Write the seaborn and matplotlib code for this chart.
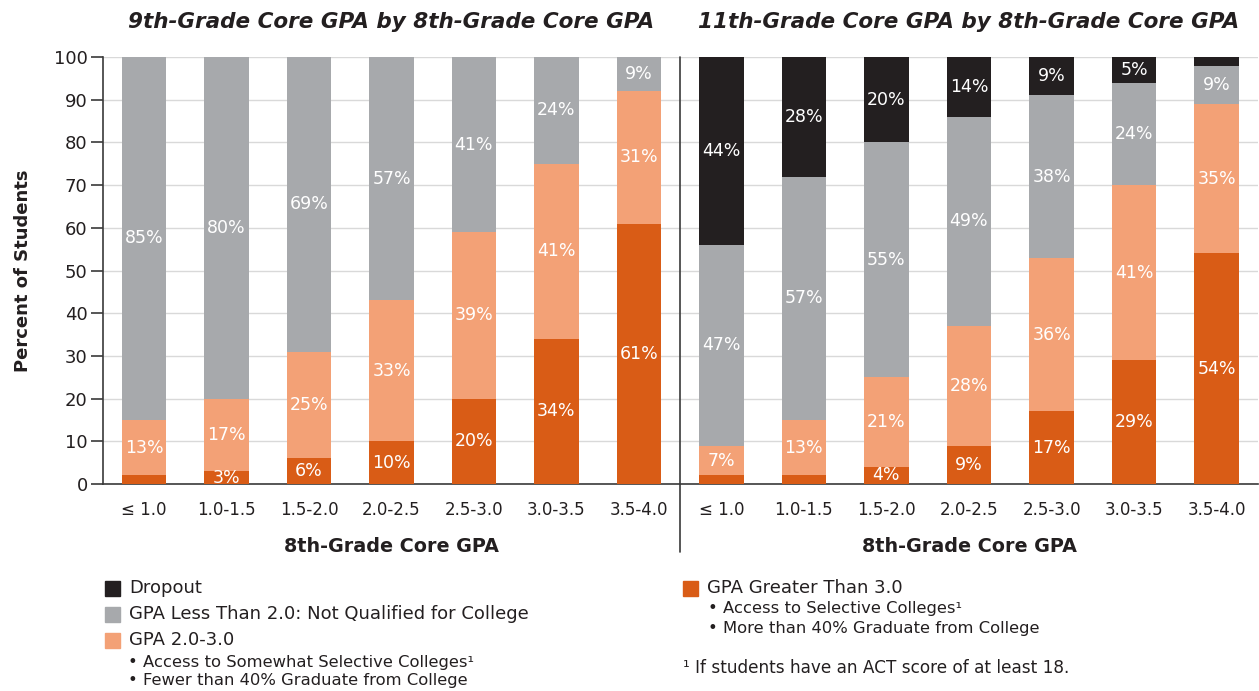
import matplotlib
matplotlib.use("Agg")
import matplotlib.pyplot as plt
from matplotlib.patches import Rectangle
from matplotlib.lines import Line2D
import numpy as np
import pandas as pd
import seaborn as sns

# categories (8th grade core GPA bins)
gpa_bins = ["\u2264 1.0", "1.0-1.5", "1.5-2.0", "2.0-2.5", "2.5-3.0", "3.0-3.5", "3.5-4.0"]

# 9th grade outcome, percent of students
g9_high = [2, 3, 6, 10, 20, 34, 61]      # GPA > 3.0
g9_mid = [13, 17, 25, 33, 39, 41, 31]    # GPA 2.0-3.0
g9_low = [85, 80, 69, 57, 41, 24, 9]     # GPA < 2.0

# 11th grade outcome, percent of students
g11_high = [2, 2, 4, 9, 17, 29, 54]
g11_mid = [7, 13, 21, 28, 36, 41, 35]
g11_low = [47, 57, 55, 49, 38, 24, 9]
g11_drop = [44, 28, 20, 14, 9, 5, 2]

C_DROP = "#231f20"
C_LOW = "#a7a9ac"
C_MID = "#f3a176"
C_HIGH = "#d95c16"
TXT = "#231f20"
AX = "#3a3a3a"

sns.set_style("white")
plt.rcParams["font.family"] = ["DejaVu Sans"]

fig = plt.figure(figsize=(12.59, 6.91), dpi=100)
ax1 = fig.add_axes([103 / 1259, 1 - 484 / 691, 577 / 1259, 427 / 691])
ax2 = fig.add_axes([680 / 1259, 1 - 484 / 691, 578 / 1259, 427 / 691])


def stacked(ax, layers, colors):
    # layers bottom to top; draw cumulative totals from the top down,
    # top layer fills to 100 (rounded shares)
    df = pd.DataFrame({"gpa": gpa_bins})
    cum = np.cumsum(np.array(layers), axis=0).astype(float)
    cum[-1] = 100
    for k in range(len(layers) - 1, -1, -1):
        df["v"] = cum[k]
        sns.barplot(data=df, x="gpa", y="v", color=colors[k], width=0.54,
                    saturation=1, linewidth=0, ax=ax, zorder=3)
    for k, vals in enumerate(layers):
        base = cum[k - 1] if k > 0 else np.zeros(len(vals))
        for i, v in enumerate(vals):
            if v < 3:
                continue
            mid = (base[i] + cum[k][i]) / 2
            ax.text(i, mid, f"{v}%", ha="center", va="center", color="white",
                    fontsize=12.5, zorder=4)


stacked(ax1, [g9_high, g9_mid, g9_low], [C_HIGH, C_MID, C_LOW])
stacked(ax2, [g11_high, g11_mid, g11_low, g11_drop], [C_HIGH, C_MID, C_LOW, C_DROP])

for ax in (ax1, ax2):
    ax.set_ylim(0, 100)
    ax.set_xlim(-0.5, 6.5)
    ax.set_yticks(range(0, 101, 10))
    ax.yaxis.grid(True, color="#d9d9d9", lw=1, zorder=0)
    ax.set_axisbelow(True)
    for s in ("top", "right", "left"):
        ax.spines[s].set_visible(False)
    ax.spines["bottom"].set_color(AX)
    ax.spines["bottom"].set_linewidth(1.2)
    ax.set_xticks(range(7))
    ax.set_xticklabels(gpa_bins, fontsize=12, color=TXT)
    ax.set_xticks(np.arange(0.5, 7, 1), minor=True)
    ax.tick_params(axis="x", which="major", length=0, pad=12)
    ax.tick_params(axis="x", which="minor", length=16, width=1.2, color=AX)
    ax.set_xlabel("8th-Grade Core GPA", fontsize=13.8, fontweight="bold",
                  color=TXT, labelpad=13)
    ax.set_ylabel("")

ax1.spines["left"].set_visible(True)
ax1.spines["left"].set_color(AX)
ax1.spines["left"].set_linewidth(1.2)
ax1.tick_params(axis="y", length=9, width=1.2, color=AX, labelsize=13,
                labelcolor=TXT, pad=2, left=True)
ax1.set_ylabel("Percent of Students", fontsize=13, fontweight="bold",
               color=TXT, labelpad=16)
ax2.tick_params(axis="y", left=False, labelleft=False)

for ax, title in ((ax1, "9th-Grade Core GPA by 8th-Grade Core GPA"),
                  (ax2, "11th-Grade Core GPA by 8th-Grade Core GPA")):
    ax.set_title(title, fontsize=15.5, fontweight="bold", fontstyle="italic",
                 color=TXT, pad=21)

# divider between panels
fig.add_artist(Line2D([680 / 1259, 680 / 1259], [1 - 57 / 691, 1 - 552 / 691],
                      transform=fig.transFigure, color=AX, lw=1.2))


def fy(py):
    return 1 - py / 691


def swatch(px, py, color):
    fig.add_artist(Rectangle((px / 1259, fy(py + 8)), 15 / 1259, 15 / 691,
                             transform=fig.transFigure, color=color))


legend_rows = [
    (105, 588, C_DROP, "Dropout"),
    (105, 614, C_LOW, "GPA Less Than 2.0: Not Qualified for College"),
    (105, 640, C_MID, "GPA 2.0-3.0"),
    (683, 588, C_HIGH, "GPA Greater Than 3.0"),
]
for px, py, c, t in legend_rows:
    swatch(px, py, c)
    fig.text((px + 24) / 1259, fy(py), t, fontsize=13, color=TXT, va="center")

bullets = [
    (128, 663, "\u2022 Access to Somewhat Selective Colleges\u00b9"),
    (128, 681, "\u2022 Fewer than 40% Graduate from College"),
    (708, 608, "\u2022 Access to Selective Colleges\u00b9"),
    (708, 628, "\u2022 More than 40% Graduate from College"),
]
for px, py, t in bullets:
    fig.text(px / 1259, fy(py), t, fontsize=11.8, color=TXT, va="center")
fig.text(683 / 1259, fy(668), "\u00b9 If students have an ACT score of at least 18.",
         fontsize=12.2, color=TXT, va="center")

fig.savefig("out.png", dpi=100)
